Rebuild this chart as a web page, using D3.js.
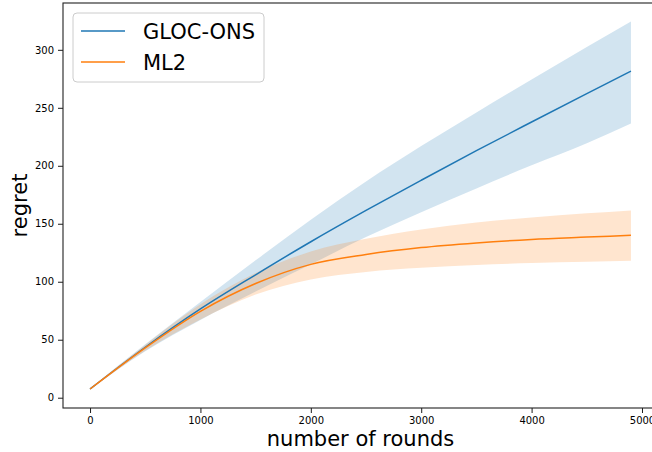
<!DOCTYPE html>
<html lang="en">
<head>
  <meta charset="UTF-8">
  <title>Regret vs rounds</title>
  <script src="https://d3js.org/d3.v7.min.js"></script>
  <style>
    body { margin: 0; background: #fff; }
    text { font-family: "DejaVu Sans", sans-serif; }
  </style>
</head>
<body>
  <div id="chart"></div>

  <script>
    // rounds (x) and the two series with their bands
    const rounds      = [0, 500, 1000, 1500, 2000, 2500, 3000, 3500, 4000, 4500, 4900];
    const glocMean    = [7.5, 43.5, 76.5, 106, 134.5, 161.5, 187.5, 213, 237.75, 262.25, 281.6];
    const glocUpper   = [8, 46, 82.5, 118.5, 153.5, 186.5, 217, 246, 274.5, 302.5, 324.5];
    const glocLower   = [7, 40, 67, 91.5, 115, 138.5, 160, 180.5, 200.5, 219.5, 236.5];
    const ml2Mean     = [7.5, 43, 74.5, 98.5, 115, 123.5, 129.5, 133.5, 136.5, 138.5, 140];
    const ml2Upper    = [8, 45.5, 80.5, 107.5, 126, 137, 145, 151, 155.5, 159, 161.5];
    const ml2Lower    = [7, 40.5, 67.5, 89, 102, 108.5, 112, 114.5, 116.2, 117.3, 118];

    const xTicks = [0, 1000, 2000, 3000, 4000, 5000];
    const yTicks = [0, 50, 100, 150, 200, 250, 300];

    const series = [
      {name: "GLOC-ONS", mean: glocMean, lo: glocLower, hi: glocUpper, color: "#1f77b4"},
      {name: "ML2",      mean: ml2Mean,  lo: ml2Lower,  hi: ml2Upper,  color: "#ff7f0e"}
    ];

    const W = 652, H = 452;
    const margin = {top: 3, right: -6, bottom: 44, left: 63};

    const svg = d3.select("#chart").append("svg")
      .attr("width", W)
      .attr("height", H);

    // matplotlib style 5% padding around the data
    const xMin = d3.min(rounds), xMax = d3.max(rounds);
    const xPad = (xMax - xMin) * 0.05;
    const yMin = d3.min(series, s => d3.min(s.lo)), yMax = d3.max(series, s => d3.max(s.hi));
    const yPad = (yMax - yMin) * 0.05;

    const x = d3.scaleLinear()
      .domain([xMin - xPad, xMax + xPad])
      .range([margin.left, W - margin.right]);
    const y = d3.scaleLinear()
      .domain([yMin - yPad, yMax + yPad])
      .range([H - margin.bottom, margin.top]);

    const plot = svg.append("g");

    // bands first
    series.forEach(s => {
      const area = d3.area()
        .x((d, i) => x(rounds[i]))
        .y0((d, i) => y(s.lo[i]))
        .y1((d, i) => y(s.hi[i]))
        .curve(d3.curveMonotoneX);
      plot.append("path")
        .attr("d", area(rounds))
        .attr("fill", s.color)
        .attr("fill-opacity", 0.2);
    });

    // mean lines
    series.forEach(s => {
      const line = d3.line()
        .x((d, i) => x(rounds[i]))
        .y((d, i) => y(s.mean[i]))
        .curve(d3.curveMonotoneX);
      plot.append("path")
        .attr("d", line(rounds))
        .attr("fill", "none")
        .attr("stroke", s.color)
        .attr("stroke-width", 1.5);
    });

    // axes
    const xAxis = svg.append("g")
      .attr("transform", `translate(0,${H - margin.bottom})`)
      .call(d3.axisBottom(x).tickValues(xTicks).tickSize(5).tickPadding(4).tickFormat(d3.format("d")));
    const yAxis = svg.append("g")
      .attr("transform", `translate(${margin.left},0)`)
      .call(d3.axisLeft(y).tickValues(yTicks).tickSize(5).tickPadding(4).tickFormat(d3.format("d")));

    [xAxis, yAxis].forEach(g => {
      g.select(".domain").remove();
      g.selectAll(".tick line").attr("stroke", "#000").attr("stroke-width", 0.9);
      g.selectAll(".tick text").attr("font-size", 10).attr("fill", "#000")
        .style("font-family", "DejaVu Sans, sans-serif");
    });

    // frame (spines)
    svg.append("rect")
      .attr("x", margin.left)
      .attr("y", margin.top)
      .attr("width", x.range()[1] - margin.left)
      .attr("height", H - margin.bottom - margin.top)
      .attr("fill", "none")
      .attr("stroke", "#222")
      .attr("stroke-width", 1.1);

    // axis labels
    svg.append("text")
      .attr("x", (margin.left + x.range()[1]) / 2)
      .attr("y", 446)
      .attr("text-anchor", "middle")
      .attr("font-size", 21)
      .text("number of rounds");

    svg.append("text")
      .attr("transform", `translate(27,${(margin.top + H - margin.bottom) / 2}) rotate(-90)`)
      .attr("text-anchor", "middle")
      .attr("font-size", 21)
      .text("regret");

    // legend
    const legend = svg.append("g").attr("transform", "translate(73,13)");
    legend.append("rect")
      .attr("width", 191)
      .attr("height", 69)
      .attr("rx", 4)
      .attr("fill", "#fff")
      .attr("fill-opacity", 0.8)
      .attr("stroke", "#ccc");

    series.forEach((s, i) => {
      const row = legend.append("g").attr("transform", `translate(0,${18 + i * 31})`);
      row.append("line")
        .attr("x1", 8).attr("x2", 52)
        .attr("stroke", s.color)
        .attr("stroke-width", 1.5);
      row.append("text")
        .attr("x", 70)
        .attr("dy", "0.36em")
        .attr("font-size", 21)
        .text(s.name);
    });
  </script>
</body>
</html>
